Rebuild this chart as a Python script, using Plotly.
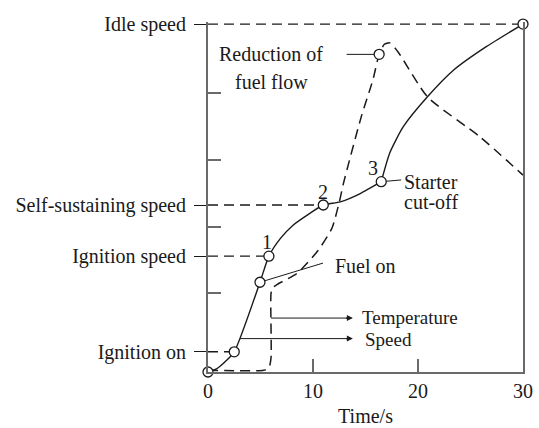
import plotly.graph_objects as go

# ---- data (time in s, speed / temperature in % of idle speed) ----
# speed before starter cut-off (point 3)
speed_t_a = [0, 0.8, 1.5, 2.5, 4.95, 5.8, 6.9, 8.1, 9.7, 10.98, 12.6, 14.5, 16.5]
speed_v_a = [0, 0.9, 2.6, 5.8, 25.8, 33.3, 38.4, 42.2, 45.6, 48.0, 48.9, 51.3, 54.7]
# speed after starter cut-off
speed_t_b = [16.5, 17.3, 18.6, 20.9, 23.4, 26.5, 30]
speed_v_b = [54.7, 62.9, 70.5, 79.1, 86.8, 93.5, 100]

temp_t = [0, 5.3, 5.8, 6.0, 6.0, 6.15, 6.6, 8.5, 10.5, 11.8, 12.5, 12.9, 14.6, 15.7, 16.3, 16.8, 17.3, 18.1, 20.9, 25.9, 30]
temp_v = [0.5, 0.5, 1.2, 4.0, 22.5, 24.2, 25.2, 28.4, 35.0, 41.3, 48.8, 54.2, 73.4, 83.9, 91.3, 94.2, 94.6, 92.0, 79.1, 67.6, 56.6]

# key events on the speed curve
event_t = [0, 2.5, 4.95, 5.8, 10.98, 16.5, 30]
event_v = [0, 5.8, 25.8, 33.3, 48.0, 54.7, 100]
# reduction of fuel flow (on temperature curve)
reduce_t = [16.3]
reduce_v = [91.3]

# reference speed levels
level_names = ["Ignition on", "Ignition speed", "Self-sustaining speed", "Idle speed"]
level_v = [5.8, 33.3, 48.0, 100]
level_t = [2.5, 5.8, 10.98, 30]

minor_ticks = [22.7, 41.8, 60.9, 80.2]
x_ticks = [0, 10, 20, 30]

FONT = "Liberation Serif, Times New Roman, serif"
INK = "#1a1a1a"
AX = "#6a6a6a"

fig = go.Figure()

# dashed reference lines from the axis to the event points
for v, t in zip(level_v, level_t):
    fig.add_trace(go.Scatter(x=[0, t], y=[v, v], mode="lines",
                             line=dict(color=INK, width=1.4, dash="10px,6px"),
                             hoverinfo="skip", showlegend=False))

# temperature (dashed)
fig.add_trace(go.Scatter(x=temp_t, y=temp_v, mode="lines",
                         line=dict(color=INK, width=1.5, dash="10px,6px", shape="spline", smoothing=0.6),
                         name="Temperature", showlegend=False))
# speed (solid)
for st, sv in ((speed_t_a, speed_v_a), (speed_t_b, speed_v_b)):
    fig.add_trace(go.Scatter(x=st, y=sv, mode="lines",
                             line=dict(color=INK, width=1.4, shape="spline", smoothing=0.6),
                             name="Speed", showlegend=False))

# leader lines
leaders = [
    ([13.2, 16.3], [91.3, 91.3]),
    ([16.5, 18.4], [54.7, 55.2]),
    ([4.95, 10.95], [25.8, 31.3]),
]
for lx, ly in leaders:
    fig.add_trace(go.Scatter(x=lx, y=ly, mode="lines", line=dict(color=INK, width=1),
                             hoverinfo="skip", showlegend=False))
# legend-like arrows (lines)
fig.add_trace(go.Scatter(x=[6.0, 13.4], y=[15.5, 15.5], mode="lines", line=dict(color=INK, width=1),
                         hoverinfo="skip", showlegend=False))
fig.add_trace(go.Scatter(x=[3.05, 13.4], y=[9.6, 9.6], mode="lines", line=dict(color=INK, width=1),
                         hoverinfo="skip", showlegend=False))

# markers
fig.add_trace(go.Scatter(x=event_t + reduce_t, y=event_v + reduce_v, mode="markers",
                         marker=dict(size=10, color="white", line=dict(color=INK, width=1.3)),
                         cliponaxis=False, hoverinfo="skip", showlegend=False))

def txt(x, y, s, anchor="center", size=20):
    fig.add_annotation(x=x, y=y, text=s, showarrow=False, xanchor=anchor, yanchor="middle",
                       font=dict(family=FONT, size=size, color=INK), borderpad=0)

txt(6.0, 91.4, "Reduction of")
txt(6.0, 83.3, "fuel flow")
txt(5.6, 37.4, "1")
txt(10.95, 51.7, "2")
txt(15.7, 58.6, "3")
txt(18.55, 54.6, "Starter", "left")
txt(18.55, 48.9, "cut-off", "left")
txt(12.0, 30.5, "Fuel on", "left")
txt(14.6, 15.7, "Temperature", "left", 19)
txt(14.9, 9.4, "Speed", "left", 19)

for y in (15.5, 9.6):
    fig.add_annotation(x=13.8, y=y, ax=13.0, ay=y, axref="x", ayref="y", text="",
                       showarrow=True, arrowhead=2, arrowsize=1, arrowwidth=1.2, arrowcolor=INK)

fig.update_layout(
    width=539, height=428,
    margin=dict(l=208, r=16, t=22, b=56),
    paper_bgcolor="white", plot_bgcolor="white",
    font=dict(family=FONT, size=20, color=INK),
)
fig.update_xaxes(range=[0, 30], showgrid=False, zeroline=False, automargin=False,
                 showline=True, linecolor=AX, linewidth=2,
                 tickmode="array", tickvals=x_ticks, ticks="inside", ticklen=13,
                 tickcolor=AX, tickwidth=1.5,
                 tickfont=dict(family=FONT, size=20, color=INK),
                 title=dict(text="Time/s", font=dict(family=FONT, size=20, color=INK), standoff=8))
fig.update_yaxes(range=[0, 100.6], showgrid=False, zeroline=False, automargin=False,
                 showline=True, linecolor=AX, linewidth=2, mirror=True,
                 tickmode="array", tickvals=level_v, ticktext=level_names,
                 ticks="outside", ticklen=12, tickcolor=INK, tickwidth=1.4,
                 ticklabelstandoff=4,
                 tickfont=dict(family=FONT, size=20, color=INK),
                 minor=dict(tickmode="array", tickvals=minor_ticks, ticks="inside",
                            ticklen=13, tickcolor=AX, tickwidth=1.5))

fig.write_html("out.html", config={"displayModeBar": False},
               post_script="document.body.style.margin='0';document.body.style.overflow='hidden';")
